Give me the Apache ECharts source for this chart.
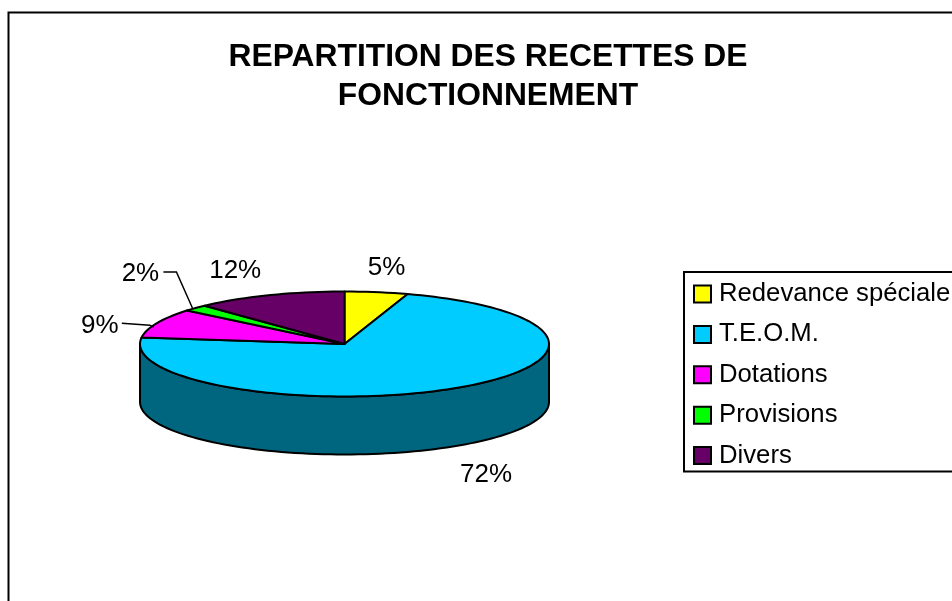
<!DOCTYPE html>
<html>
<head>
<meta charset="utf-8">
<style>
  html, body { margin: 0; padding: 0; background: #fff; overflow: hidden; }
  #chart { width: 952px; height: 601px; }
</style>
<script src="https://cdn.jsdelivr.net/npm/echarts@6/dist/echarts.min.js"></script>
</head>
<body>
<div id="chart"></div>
<script>
const CATEGORIES = ["Redevance spéciale", "T.E.O.M.", "Dotations", "Provisions", "Divers"];
const VALUES = [5, 72, 9, 2, 12];
const COLORS = ["#FFFF00", "#00CCFF", "#FF00FF", "#00FF00", "#660066"];
const WALL_COLORS = ["#808000", "#006680", "#800080", "#008000", "#330033"];

// label placement, relative to the rim point at the middle of each slice
const LABEL_OFFSETS = [[10, -24], [32, 87], [-57, 3], [-55, -34], [-34, -24]];
const LEADERS = [null, null, [[-35, 0], [-7, 2], [-3, 4]], [[-32, -36], [-19, -36], [-3, 0]], null];

const FONT = '"Liberation Sans", Arial, sans-serif';
const CX = 344.5;
const CY = 344;
const RX = 204.5;
const RY = 52.5;
const DEPTH = 58;
const STEP = 2;

const TOTAL = VALUES.reduce((sum, v) => sum + v, 0);

// angles run clockwise from the top of the ellipse, in degrees
function rimPoint(angle, drop = 0) {
  const rad = (angle * Math.PI) / 180;
  return [CX + RX * Math.sin(rad), CY - RY * Math.cos(rad) + drop];
}

function arcPoints(from, to, drop = 0) {
  const points = [];
  for (let a = from; a < to; a += STEP) points.push(rimPoint(a, drop));
  points.push(rimPoint(to, drop));
  return points;
}

function sliceStart(index) {
  let sum = 0;
  for (let i = 0; i < index; i++) sum += VALUES[i];
  return (sum / TOTAL) * 360;
}

function renderSlice(index, value) {
  const start = sliceStart(index);
  const end = start + (value / TOTAL) * 360;
  const children = [];
  const edge = { stroke: "#000", lineWidth: 2, lineJoin: "round" };

  // only the front half of the rim shows a wall
  const wallFrom = Math.max(start, 90);
  const wallTo = Math.min(end, 270);
  if (wallTo > wallFrom) {
    const wall = arcPoints(wallFrom, wallTo).concat(arcPoints(wallFrom, wallTo, DEPTH).reverse());
    children.push({
      type: "polygon",
      shape: { points: wall },
      style: { fill: WALL_COLORS[index], ...edge }
    });
  }

  children.push({
    type: "polygon",
    shape: { points: [[CX, CY]].concat(arcPoints(start, end)) },
    style: { fill: COLORS[index], ...edge }
  });

  const mid = rimPoint((start + end) / 2);
  const offset = LABEL_OFFSETS[index];
  const labelX = mid[0] + offset[0];
  const labelY = mid[1] + offset[1];

  if (LEADERS[index]) {
    children.push({
      type: "polyline",
      shape: { points: LEADERS[index].map((p) => [mid[0] + p[0], mid[1] + p[1]]) },
      style: { fill: null, stroke: "#000", lineWidth: 1.5 }
    });
  }

  children.push({
    type: "text",
    style: {
      text: value + "%",
      x: labelX,
      y: labelY,
      fill: "#000",
      font: "26px " + FONT,
      textAlign: "center",
      textVerticalAlign: "middle"
    }
  });

  return { type: "group", children };
}

const chart = echarts.init(document.getElementById("chart"));

chart.setOption({
  backgroundColor: "#fff",
  animation: false,
  title: {
    text: "REPARTITION DES RECETTES DE\nFONCTIONNEMENT",
    left: 483,
    top: 33,
    textAlign: "center",
    textStyle: {
      fontFamily: FONT,
      fontSize: 31.8,
      fontWeight: "bold",
      color: "#000",
      lineHeight: 39
    }
  },
  legend: {
    orient: "vertical",
    left: 684,
    top: 272,
    padding: [8, 30, 2, 9],
    itemGap: 12.4,
    itemWidth: 17,
    itemHeight: 17,
    icon: "rect",
    selectedMode: false,
    backgroundColor: "#fff",
    borderColor: "#000",
    borderWidth: 2,
    itemStyle: { borderColor: "#000", borderWidth: 2 },
    textStyle: {
      fontFamily: FONT,
      fontSize: 25.7,
      color: "#000",
      lineHeight: 28,
      padding: [0, 0, 0, 3]
    },
    data: CATEGORIES
  },
  graphic: [
    {
      type: "rect",
      silent: true,
      z: -1,
      shape: { x: 8.5, y: 12.5, width: 1100, height: 800 },
      style: { fill: "#fff", stroke: "#000", lineWidth: 2 }
    }
  ],
  series: CATEGORIES.map((name, index) => ({
    type: "custom",
    name,
    coordinateSystem: "none",
    itemStyle: { color: COLORS[index] },
    data: [[VALUES[index]]],
    renderItem: (params, api) => renderSlice(index, api.value(0))
  }))
});
</script>
</body>
</html>
